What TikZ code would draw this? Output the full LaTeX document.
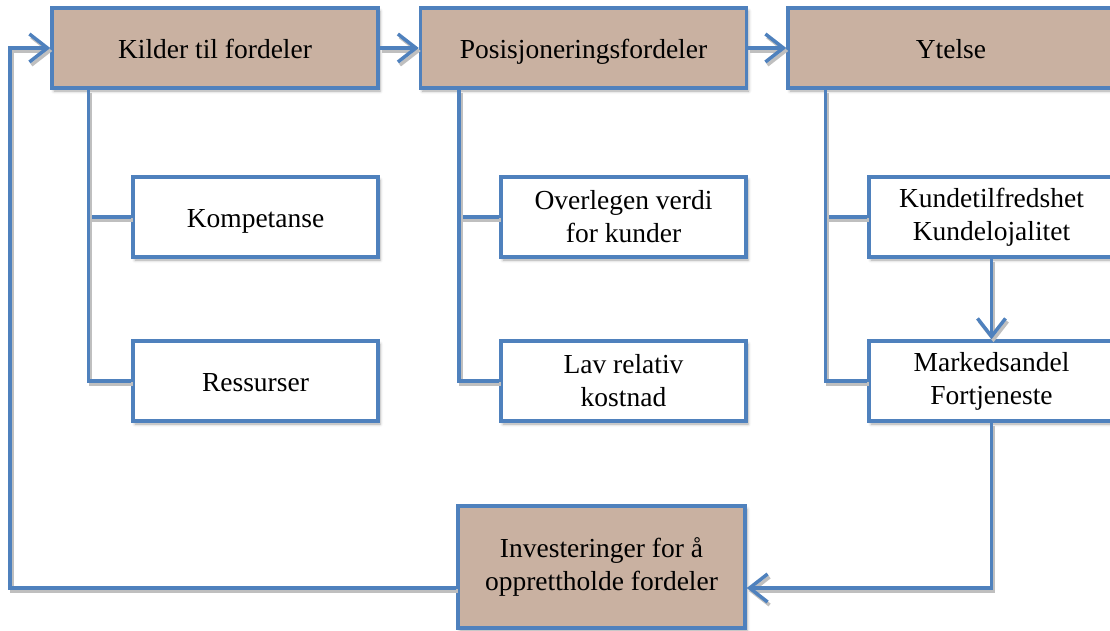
\documentclass[tikz,border=0pt]{standalone}
\usepackage{fontspec}
\setmainfont{Liberation Serif}
\usepackage{xcolor}
\usetikzlibrary{calc,arrows.meta,shadows.blur}
\definecolor{kantblaa}{HTML}{4F81BD}
\definecolor{brunfyll}{HTML}{C9B1A1}
\tikzset{
  boks/.style={draw=kantblaa, line width=3.5pt, rectangle, align=center,
    font=\fontsize{27.5}{33}\selectfont,
    blur shadow={shadow xshift=2pt, shadow yshift=-3pt, shadow blur radius=3pt, shadow opacity=35}},
  toppboks/.style={boks, fill=brunfyll, minimum width=326pt, minimum height=80pt},
  enlinje/.style={text height=22pt, text depth=2pt},
  underboks/.style={boks, fill=white, minimum width=245pt, minimum height=80pt},
  linje/.style={draw=kantblaa, line width=3.5pt,
    preaction={draw=black!25, line width=3.5pt, transform canvas={xshift=2pt,yshift=-3pt}}},
  pil/.style={linje, -{Straight Barb[length=18pt,width=28pt]}}
}
\begin{document}
\begin{tikzpicture}[x=1pt,y=-1pt]
\useasboundingbox (0,0) rectangle (1110,630);
\node[toppboks,enlinje](kilder) at (215,48){Kilder til fordeler};
\node[toppboks,enlinje](posisjon) at (583.5,48){Posisjoneringsfordeler};
\node[toppboks,enlinje](ytelse) at (951,48){Ytelse};
\node[underboks,enlinje](kompetanse) at (255.5,217){Kompetanse};
\node[underboks,enlinje](ressurser) at (255.5,381){Ressurser};
\node[underboks](overlegen) at (623.5,217){Overlegen verdi\\for kunder};
\node[underboks](lavkost) at (623.5,381){Lav relativ\\kostnad};
\node[underboks](kunde) at (991.5,217){Kundetilfredshet\\Kundelojalitet};
\node[underboks](marked) at (991.5,381){Markedsandel\\Fortjeneste};
\node[toppboks, minimum width=287pt, minimum height=122pt](invest) at (601.5,567){Investeringer for å\\opprettholde fordeler};
\coordinate (venstre) at (10,588);
\coordinate (retur) at (marked.south |- venstre);
% stammer og grener
\draw[linje]([xshift=38pt]kilder.south west) |- (kompetanse.west);
\draw[linje]([xshift=38pt]kilder.south west) |- (ressurser.west);
\draw[linje]([xshift=40pt]posisjon.south west) |- (overlegen.west);
\draw[linje]([xshift=40pt]posisjon.south west) |- (lavkost.west);
\draw[linje]([xshift=39pt]ytelse.south west) |- (kunde.west);
\draw[linje]([xshift=39pt]ytelse.south west) |- (marked.west);
% piler
\draw[pil](kilder.east)--(posisjon.west);
\draw[pil](posisjon.east)--(ytelse.west);
\draw[pil](kunde.south)--(marked.north);
\draw[pil](marked.south)--(retur)--(invest.east |- retur);
\draw[pil](invest.west |- venstre)--(venstre) |- (kilder.west);
\end{tikzpicture}
\end{document}
